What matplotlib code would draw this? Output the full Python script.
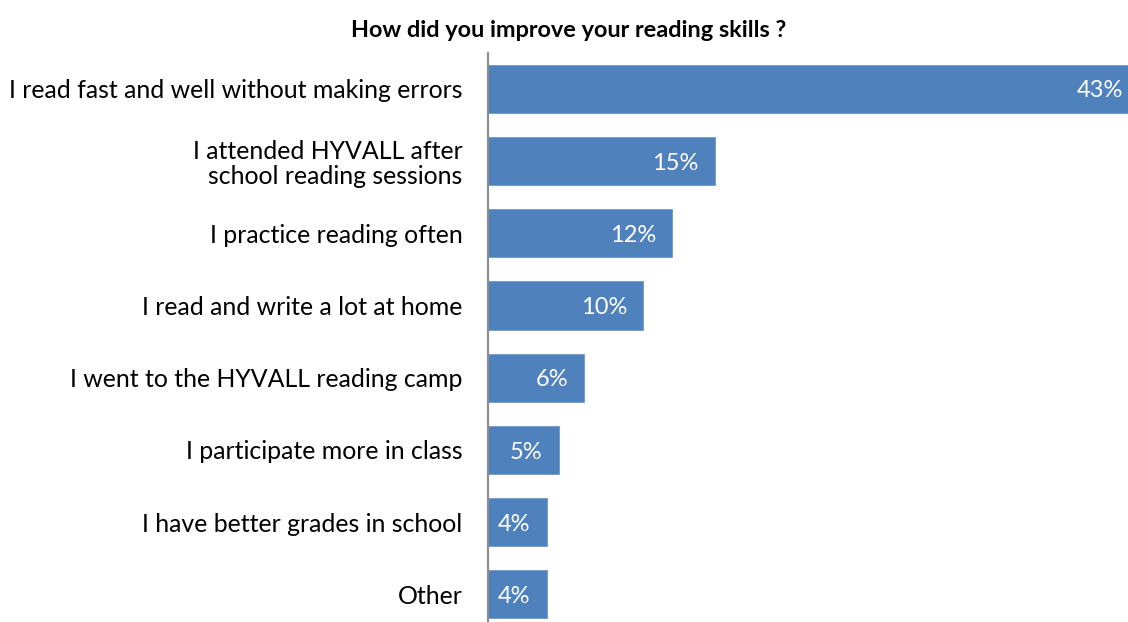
import matplotlib.pyplot as plt

# survey answers, top to bottom
categories = [
    "I read fast and well without making errors",
    "I attended HYVALL after\nschool reading sessions",
    "I practice reading often",
    "I read and write a lot at home",
    "I went to the HYVALL reading camp",
    "I participate more in class",
    "I have better grades in school",
    "Other",
]
percent = [43.0, 15.0, 12.2, 10.3, 6.4, 4.7, 3.9, 3.9]
title = "How did you improve your reading skills ?"

plt.rcParams['font.family'] = ['Lato', 'DejaVu Sans']

fig = plt.figure(figsize=(11.28, 6.22), dpi=100)
ax = fig.add_axes([0.4322, -0.0138, 0.5678, 0.9291])

y = range(len(categories))
bars = ax.barh(y, percent, height=0.665, color='#4F81BD',
               edgecolor='#6F98CA', linewidth=0.6)

ax.set_xlim(0, 42.3)
ax.set_ylim(len(categories) - 0.5, -0.5)

for bar, v in zip(bars, percent):
    ax.annotate(f"{v:.0f}%", (v, bar.get_y() + bar.get_height() / 2),
                xytext=(-11.5, -1.5), textcoords='offset points',
                ha='right', va='center', color='white', fontsize=17,
                annotation_clip=False)

ax.set_yticks(list(y))
ax.set_yticklabels(categories, fontsize=17.9, linespacing=1.08)
ax.tick_params(axis='y', length=0, pad=18)
ax.set_xticks([])

for s in ['top', 'right', 'bottom']:
    ax.spines[s].set_visible(False)
ax.spines['left'].set_color('#8C8C8C')
ax.spines['left'].set_linewidth(1.5)

fig.text(0.504, 0.951, title, ha='center', va='center',
         fontsize=16.9, fontweight='bold')

fig.savefig('out.png', dpi=100)
